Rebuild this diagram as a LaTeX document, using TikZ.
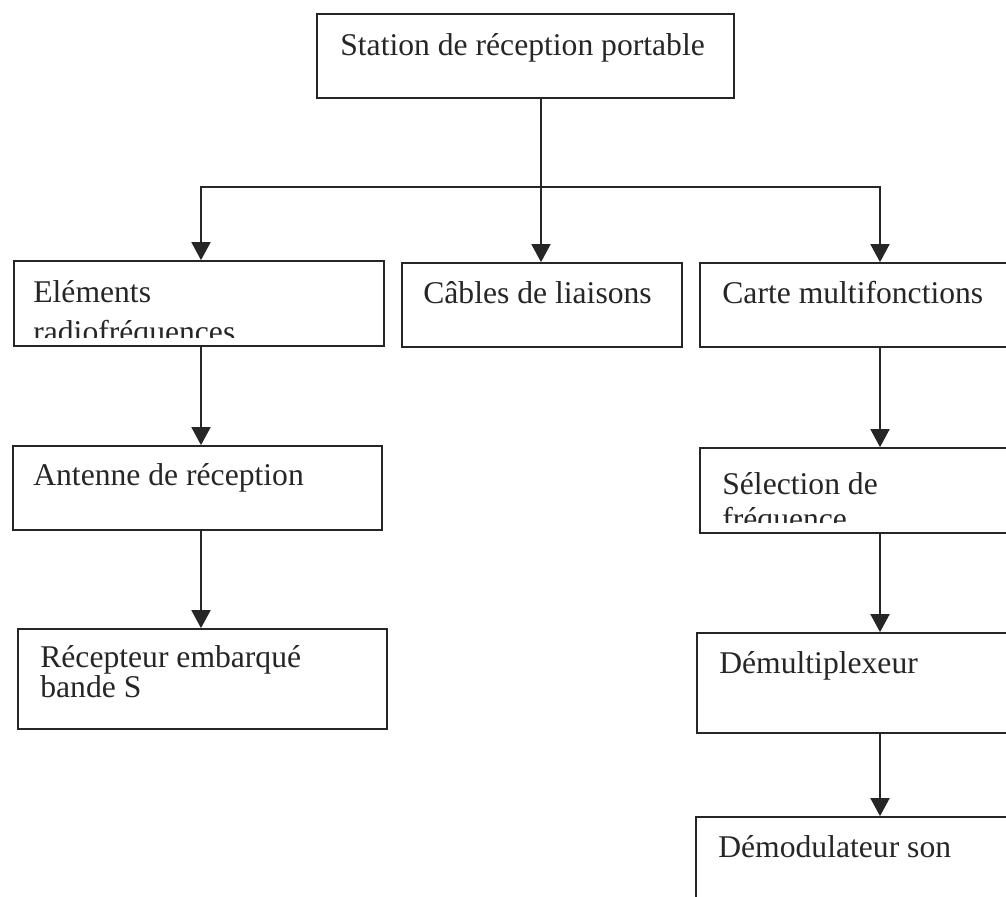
\documentclass[tikz,border=0pt]{standalone}
\usepackage{fontspec}
\setmainfont{Liberation Serif}
\usetikzlibrary{arrows.meta}
\begin{document}
\begin{tikzpicture}[x=0.02cm,y=-0.02cm,
  box/.style={draw=black!85, line width=1pt, inner sep=0pt},
  txt/.style={anchor=base west, inner sep=0pt, align=left, text=black!85,
              font=\fontsize{18}{17}\selectfont},
  arr/.style={draw=black!85, line width=1pt, -{Triangle[length=0.36cm,width=0.38cm]}}]
\useasboundingbox[fill=white] (0,0) rectangle (1006,896);
\clip (0,0) rectangle (1006,896);
% boxes
\node[box, minimum width=8.34cm, minimum height=1.68cm] (top) at (525.5,56) {};
\node[box, minimum width=7.40cm, minimum height=1.70cm] (b1) at (199,303.5) {};
\node[box, minimum width=5.60cm, minimum height=1.68cm] (b2) at (542,305) {};
\node[box, minimum width=6.28cm, minimum height=1.68cm] (b3) at (857,305) {};
\node[box, minimum width=7.38cm, minimum height=1.68cm] (b4) at (197.5,488) {};
\node[box, minimum width=7.38cm, minimum height=2.00cm] (b5) at (202.5,679) {};
\node[box, minimum width=6.28cm, minimum height=1.70cm] (b6) at (857,490.5) {};
\node[box, minimum width=6.34cm, minimum height=2.00cm] (b7) at (855.5,683) {};
\node[box, minimum width=6.36cm, minimum height=1.86cm] (b8) at (855,863.5) {};
% texts (multi-line nodes: base = baseline of last line)
\node[txt] (t0) at (340,55) {Station de réception portable};
\begin{scope}
  \clip (14,261) rectangle (384,337);
  \node[txt, font=\fontsize{18}{22.5}\selectfont] (t1) at (33,342) {Eléments\\radiofréquences};
\end{scope}
\node[txt] (t2) at (423,303) {Câbles de liaisons};
\node[txt] (t3) at (722,303) {Carte multifonctions};
\node[txt] (t4) at (33,485) {Antenne de réception};
\node[txt] (t5) at (40,697) {Récepteur embarqué\\bande S};
\begin{scope}
  \clip (700,448) rectangle (1006,522);
  \node[txt, font=\fontsize{18}{19.5}\selectfont] (t6) at (722,529) {Sélection de\\fréquence};
\end{scope}
\node[txt] (t7) at (719,673) {Démultiplexeur};
\node[txt] (t8) at (718,857) {Démodulateur son};
% connectors
\coordinate (j) at (541,187);
\coordinate (lc) at (201,0);
\coordinate (rc) at (880,0);
\draw[arr] (top.south -| j) -- (b2.north -| j);
\draw[arr] (j) -| (b1.north -| lc);
\draw[arr] (j) -| (b3.north -| rc);
\draw[arr] (b1.south -| lc) -- (b4.north -| lc);
\draw[arr] (b4.south -| lc) -- (b5.north -| lc);
\draw[arr] (b3.south -| rc) -- (b6.north -| rc);
\draw[arr] (b6.south -| rc) -- (b7.north -| rc);
\draw[arr] (b7.south -| rc) -- (b8.north -| rc);
\end{tikzpicture}
\end{document}
